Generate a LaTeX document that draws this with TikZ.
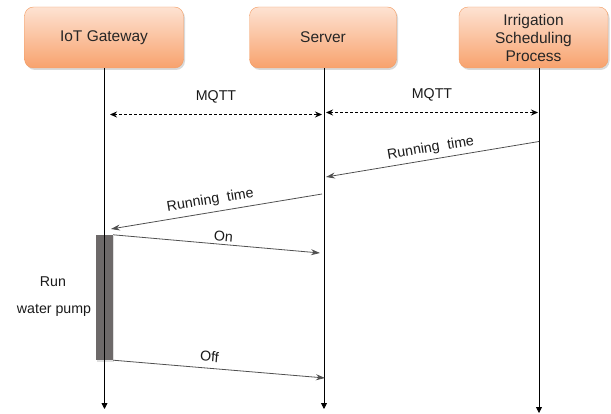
\documentclass[tikz,border=0pt]{standalone}
\usepackage{fontspec}
\setmainfont{Liberation Sans}
\usetikzlibrary{arrows.meta,shadows}

\definecolor{boxtop}{HTML}{FDE2D2}
\definecolor{boxbot}{HTML}{F8A26D}
\definecolor{boxline}{HTML}{F29C63}
\definecolor{barfill}{HTML}{6D6969}
\definecolor{msggray}{HTML}{505050}

\tikzset{
  actor/.style={rounded corners=9pt, draw=boxline, top color=boxtop, bottom color=boxbot,
    minimum height=61pt, inner sep=0pt, align=center, text=black!85,
    font=\fontsize{15.5}{18}\selectfont,
    drop shadow={opacity=0.3, shadow xshift=1.5pt, shadow yshift=-2pt}},
  pumpbar/.style={fill=barfill, minimum width=17pt, minimum height=125pt, inner sep=0pt,
    drop shadow={opacity=0.25, shadow xshift=1pt, shadow yshift=-1.5pt}},
  lifeline/.style={line width=0.8pt, -{Triangle[length=6pt,width=6pt]}},
  mqtt/.style={line width=0.9pt, dash pattern=on 3pt off 2pt, {Stealth[length=7pt,width=6pt]}-{Stealth[length=7pt,width=6pt]}},
  msg/.style={draw=msggray, line width=0.8pt, -{Stealth[length=9pt,width=6pt]}},
  lbl/.style={font=\fontsize{14.2}{16}\selectfont, text=black!90, inner sep=1pt},
}

\begin{document}
\begin{tikzpicture}[x=1pt, y=-1pt]
  \useasboundingbox (0,0) rectangle (611,414);

  % participants
  \node[actor, minimum width=159pt] (gw) at (104,37.5) {IoT Gateway};
  \node[actor, minimum width=147pt] (srv) at (323,37.5) {Server};
  \node[actor, minimum width=149pt] (isp) at (533.5,37.5) {Irrigation\\Scheduling\\Process};

  % water pump activation
  \node[pumpbar] (pump) at (104.5,297.5) {};
  \node[lbl] (run) at (53,282) {Run};
  \node[lbl] (wp) at (54,310) {water pump};

  % lifelines
  \coordinate (gwend) at (104.5,409);
  \coordinate (srvend) at (324,409);
  \coordinate (ispend) at (539,413);
  \draw[lifeline] (gw.south -| gwend) -- (gwend);
  \draw[lifeline] (srv.south -| srvend) -- (srvend);
  \draw[lifeline] (isp.south -| ispend) -- (ispend);

  % MQTT links
  \coordinate (mq1a) at (110,114.5);
  \coordinate (mq1b) at (322,114.5);
  \coordinate (mq2a) at (326,112.5);
  \coordinate (mq2b) at (538,112.5);
  \draw[mqtt] (mq1a) -- (mq1b) node[lbl, midway, above=10pt] (mqttl) {MQTT};
  \draw[mqtt] (mq2a) -- (mq2b) node[lbl, midway, above=10pt] (mqttr) {MQTT};

  % messages
  \coordinate (rt1a) at (539,141.5);
  \coordinate (rt1b) at (326,177);
  \coordinate (rt2a) at (322,194);
  \coordinate (rt2b) at (111,229);
  \coordinate (onend) at (320,253);
  \coordinate (offend) at (325,378);
  \draw[msg] (rt1a) -- (rt1b) node[lbl, pos=0.5, sloped, above=3pt] (rt1) {Running\ \ time};
  \draw[msg] (rt2a) -- (rt2b) node[lbl, pos=0.52, sloped, above=4pt] (rt2) {Running\ \ time};
  \draw[msg] (pump.north east) -- (onend) node[lbl, pos=0.53, sloped, above=2pt] (onl) {On};
  \draw[msg] (pump.south east) -- (offend) node[lbl, pos=0.45, sloped, above=5pt] (offl) {Off};
\end{tikzpicture}
\end{document}
